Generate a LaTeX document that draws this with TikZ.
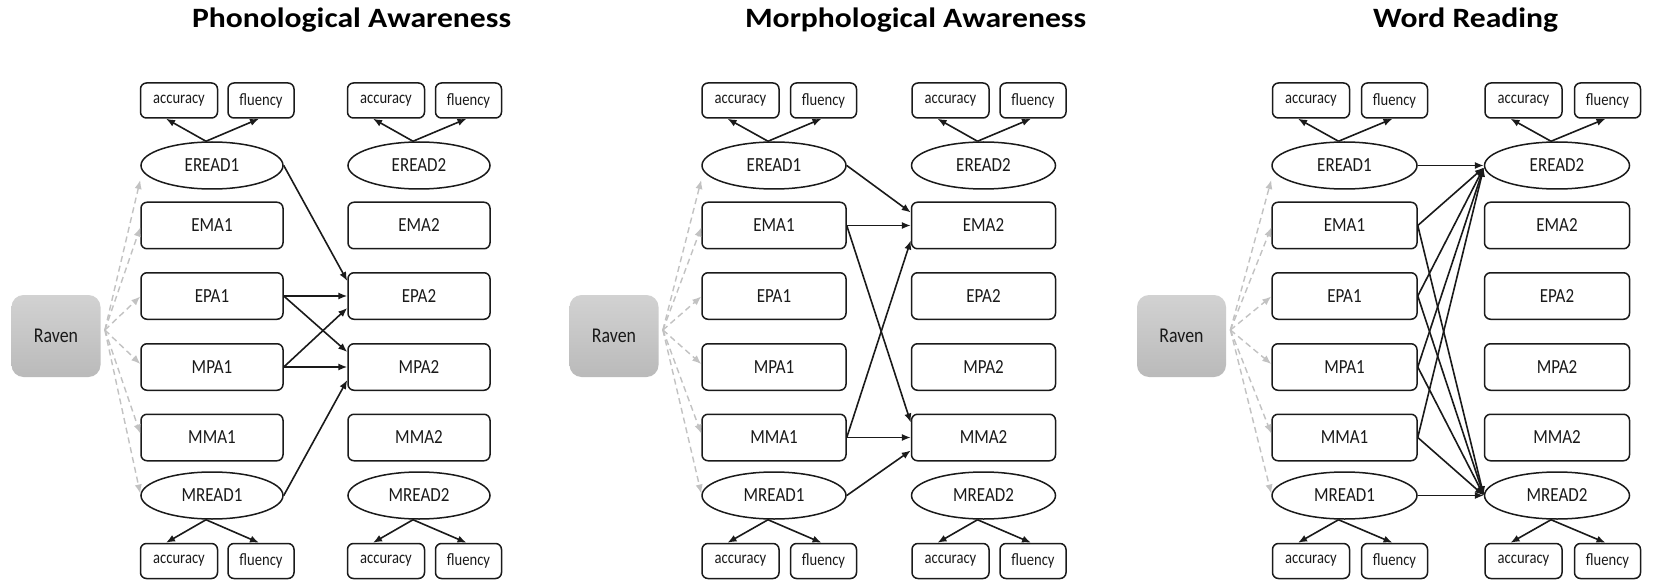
\documentclass[tikz,border=0pt]{standalone}
\usepackage{fontspec}
\setmainfont{Carlito}
\newfontfamily\boxfont{Carlito}[FakeStretch=0.85]
\newfontfamily\titlefont{Carlito}[FakeStretch=1.13]
\usetikzlibrary{arrows.meta,calc,shapes.geometric}
\definecolor{ink}{HTML}{1A1A1A}
\definecolor{dashgray}{HTML}{C2C2C2}
\definecolor{ravtop}{HTML}{D2D2D2}
\definecolor{ravbot}{HTML}{BABABA}

\newcommand\drawpanel[9]{%
  \node[ravenbox] (#1R) at (#2,336) {Raven};
  % column 1
  \node[latent,minimum width=#9] (#1E1) at (#3,165.5) {EREAD1};
  \node[varbox,minimum width=#9] (#1EMA1) at (#3,225.5) {EMA1};
  \node[varbox,minimum width=#9] (#1EPA1) at (#3,296) {EPA1};
  \node[varbox,minimum width=#9] (#1MPA1) at (#3,367) {MPA1};
  \node[varbox,minimum width=#9] (#1MMA1) at (#3,437.5) {MMA1};
  \node[latent,minimum width=#9] (#1M1) at (#3,495.5) {MREAD1};
  % column 2
  \node[latent,minimum width=#9] (#1E2) at (#4,165.5) {EREAD2};
  \node[varbox,minimum width=#9] (#1EMA2) at (#4,225.5) {EMA2};
  \node[varbox,minimum width=#9] (#1EPA2) at (#4,296) {EPA2};
  \node[varbox,minimum width=#9] (#1MPA2) at (#4,367) {MPA2};
  \node[varbox,minimum width=#9] (#1MMA2) at (#4,437.5) {MMA2};
  \node[latent,minimum width=#9] (#1M2) at (#4,495.5) {MREAD2};
  % indicators
  \node[accbox] (#1aE1) at (#5,100.5) {accuracy};
  \node[flubox] (#1fE1) at (#6,100.5) {fluency};
  \node[accbox] (#1aE2) at (#7,100.5) {accuracy};
  \node[flubox] (#1fE2) at (#8,100.5) {fluency};
  \node[accbox] (#1aM1) at (#5,561) {accuracy};
  \node[flubox] (#1fM1) at (#6,561) {fluency};
  \node[accbox] (#1aM2) at (#7,561) {accuracy};
  \node[flubox] (#1fM2) at (#8,561) {fluency};
  % measurement arrows
  \draw[conn] ($(#1E1.north)+(-6,0)$) -- ($(#1aE1.south)+(-13,0)$);
  \draw[conn] ($(#1E1.north)+(-6,0)$) -- ($(#1fE1.south)+(-2,0)$);
  \draw[conn] ($(#1E2.north)+(-6,0)$) -- ($(#1aE2.south)+(-13,0)$);
  \draw[conn] ($(#1E2.north)+(-6,0)$) -- ($(#1fE2.south)+(-2,0)$);
  \draw[conn] ($(#1M1.south)+(-6,0)$) -- ($(#1aM1.north)+(-13,0)$);
  \draw[conn] ($(#1M1.south)+(-6,0)$) -- ($(#1fM1.north)+(-2,0)$);
  \draw[conn] ($(#1M2.south)+(-6,0)$) -- ($(#1aM2.north)+(-13,0)$);
  \draw[conn] ($(#1M2.south)+(-6,0)$) -- ($(#1fM2.north)+(-2,0)$);
  % Raven covariate arrows
  \coordinate (#1Rs) at ($(#1R.east)+(4,-6)$);
  \draw[dashconn] (#1Rs) -- ($(#1E1.west)+(0,14.5)$);
  \draw[dashconn] (#1Rs) -- ($(#1EMA1.west)+(0,2)$);
  \draw[dashconn] (#1Rs) -- ($(#1EPA1.west)+(0,0.5)$);
  \draw[dashconn] (#1Rs) -- ($(#1MPA1.west)+(0,-3)$);
  \draw[dashconn] (#1Rs) -- ($(#1MMA1.west)+(0,-4)$);
  \draw[dashconn] (#1Rs) -- ($(#1M1.west)+(0,-2)$);
}

\begin{document}
\begin{tikzpicture}[x=0.5pt,y=-0.5pt,
  every node/.style={text=ink},
  varbox/.style={draw=ink, line width=0.75pt, rounded corners=3pt,
    minimum height=23.25pt, inner sep=0pt,
    font=\boxfont\fontsize{10}{12}\selectfont},
  latent/.style={ellipse, draw=ink, line width=0.75pt,
    minimum height=23.5pt, inner sep=0pt,
    font=\boxfont\fontsize{10}{12}\selectfont},
  accbox/.style={draw=ink, line width=0.75pt, rounded corners=3pt,
    minimum width=38.5pt, minimum height=17.5pt, inner sep=0pt,
    font=\boxfont\fontsize{8.6}{10}\selectfont},
  flubox/.style={accbox, minimum width=33pt},
  ravenbox/.style={draw=none, rounded corners=6pt, top color=ravtop, bottom color=ravbot,
    minimum width=44.5pt, minimum height=41pt, inner sep=0pt,
    font=\boxfont\fontsize{10.5}{12}\selectfont},
  conn/.style={draw=ink, line width=0.8pt, -{Latex[length=4.5pt,width=3.6pt]}},
  dashconn/.style={draw=dashgray, line width=0.7pt, dash pattern=on 3pt off 2pt,
    -{Latex[length=4.5pt,width=3.6pt]}},
  titletext/.style={anchor=base west, text=black,
    font=\titlefont\bfseries\fontsize{14}{16}\selectfont}
]
\fill[white] (0,0) rectangle (1669,588);
\useasboundingbox (0,0) rectangle (1669,588);

\node[titletext] (t1) at (185,27.3) {Phonological Awareness};
\node[titletext] (t2) at (738,27.3) {Morphological Awareness};
\node[titletext] (t3) at (1366,27.3) {Word Reading};

\drawpanel{a}{56}{212}{419}{179}{261}{386}{468.5}{71pt}
\drawpanel{b}{614}{774}{983.5}{740.5}{823.5}{950.5}{1033}{72pt}
\drawpanel{c}{1181.5}{1344.5}{1557}{1311}{1394.5}{1523.5}{1607.5}{72.5pt}

% Panel 1: phonological awareness
\draw[conn] (aE1.east) -- ($(aEPA2.west)+(0,-15)$);
\draw[conn] (aEPA1.east) -- (aEPA2.west);
\draw[conn] (aEPA1.east) -- ($(aMPA2.west)+(0,-15)$);
\draw[conn] (aMPA1.east) -- ($(aEPA2.west)+(0,12)$);
\draw[conn] (aMPA1.east) -- (aMPA2.west);
\draw[conn] (aM1.east) -- ($(aMPA2.west)+(0,13)$);

% Panel 2: morphological awareness
\draw[conn] (bE1.east) -- ($(bEMA2.west)+(0,-13)$);
\draw[conn] (bEMA1.east) -- (bEMA2.west);
\draw[conn] (bEMA1.east) -- ($(bMMA2.west)+(0,-15)$);
\draw[conn] (bMMA1.east) -- ($(bEMA2.west)+(0,15)$);
\draw[conn] (bMMA1.east) -- (bMMA2.west);
\draw[conn] (bM1.east) -- ($(bMMA2.west)+(0,13)$);

% Panel 3: word reading
\draw[conn] (cE1.east) -- (cE2.west);
\foreach \s in {EMA1,EPA1,MPA1,MMA1}{
  \draw[conn] (c\s.east) -- ($(cE2.west)+(0,2)$);
  \draw[conn] (c\s.east) -- (cM2.west);
}
\draw[conn] (cM1.east) -- (cM2.west);
\end{tikzpicture}
\end{document}
